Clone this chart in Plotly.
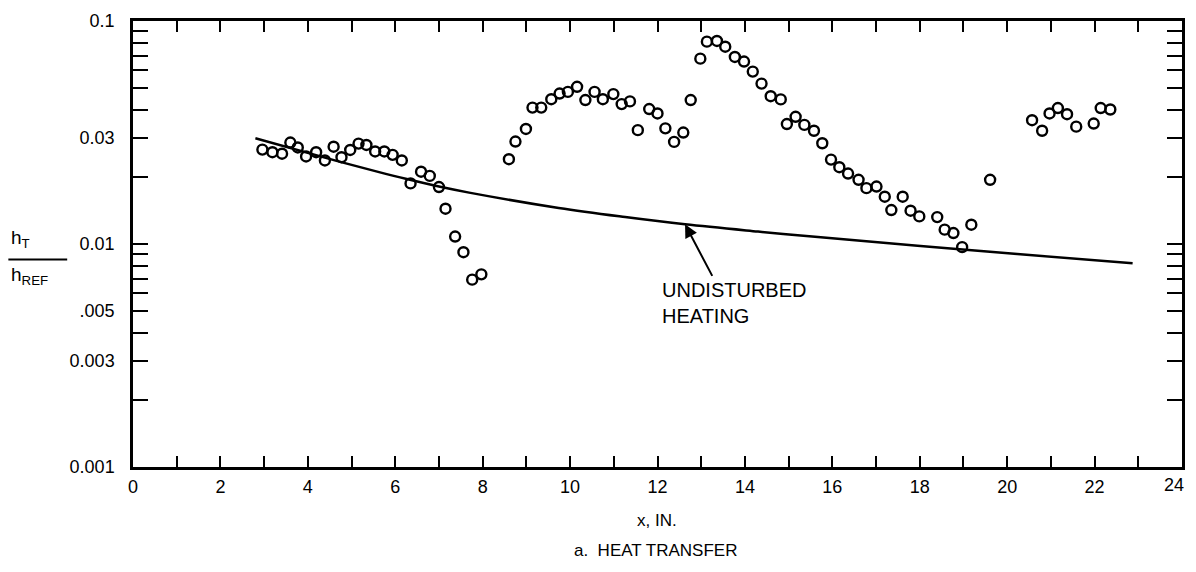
import plotly.graph_objects as go
import math

# ---- data ----
x_meas = [2.96, 3.19, 3.41, 3.60, 3.77, 3.96, 4.19, 4.39, 4.59, 4.77, 4.97, 5.16, 5.34, 5.54,
          5.75, 5.94, 6.15, 6.35, 6.59, 6.79, 7.00, 7.15, 7.37, 7.56, 7.76, 7.97,
          8.60, 8.75, 8.99, 9.14, 9.34, 9.57, 9.76, 9.95, 10.16, 10.35, 10.56, 10.75, 10.99,
          11.18, 11.37, 11.55, 11.81, 12.00, 12.18, 12.38, 12.59, 12.76,
          12.98, 13.13, 13.36, 13.55, 13.77, 13.98, 14.18, 14.38, 14.59, 14.82, 14.96, 15.16,
          15.36, 15.58, 15.77, 15.97, 16.16, 16.36, 16.60, 16.78, 17.01, 17.20, 17.35, 17.61,
          17.79, 17.99, 18.40, 18.57, 18.77, 18.97, 19.18, 19.61,
          20.57, 20.80, 20.97, 21.16, 21.37, 21.58, 21.98, 22.14, 22.36]
y_meas = [0.0265, 0.0258, 0.0254, 0.0285, 0.0271, 0.0247, 0.0258, 0.0237, 0.0273, 0.0245,
          0.0264, 0.0282, 0.0278, 0.0260, 0.0260, 0.0251, 0.0237, 0.0187, 0.0211, 0.0202,
          0.0180, 0.0144, 0.0108, 0.00919, 0.00692, 0.00731,
          0.0240, 0.0288, 0.0328, 0.0409, 0.0409, 0.0446, 0.0473, 0.0481, 0.0507, 0.0442,
          0.0481, 0.0446, 0.0470, 0.0424, 0.0436, 0.0324, 0.0403, 0.0385, 0.0330, 0.0287,
          0.0316, 0.0442,
          0.0678, 0.0808, 0.0814, 0.0767, 0.0690, 0.0658, 0.0593, 0.0524, 0.0460, 0.0445,
          0.0345, 0.0372, 0.0342, 0.0322, 0.0283, 0.0239, 0.0221, 0.0207, 0.0194, 0.0178,
          0.0181, 0.0163, 0.0142, 0.0163, 0.0141, 0.0133, 0.0132, 0.0116, 0.0112, 0.00968,
          0.0122, 0.0194,
          0.0359, 0.0322, 0.0385, 0.0407, 0.0382, 0.0336, 0.0347, 0.0407, 0.0401]

x_curve = [2.80, 4.72, 5.63, 6.24, 7.00, 7.69, 9.74, 11.26, 12.63, 14.30, 15.67, 17.95, 20.23, 22.87]
y_curve = [0.0298, 0.0234, 0.0210, 0.0196, 0.0181, 0.0170, 0.0145, 0.0132, 0.01225, 0.01137,
           0.01074, 0.00983, 0.00901, 0.0082]

x_tickvals = list(range(0, 25))
x_ticktext = [str(v) if v % 2 == 0 else "" for v in x_tickvals]

y_tickvals = [0.001, 0.002, 0.003, 0.004, 0.005, 0.006, 0.007, 0.008, 0.009,
              0.01, 0.02, 0.03, 0.04, 0.05, 0.06, 0.07, 0.08, 0.09, 0.1]
y_ticktext = ["0.001", "", "0.003", "", ".005", "", "", "", "",
              "0.01", "", "0.03", "", "", "", "", "", "", "0.1"]

FONT = "Liberation Sans, Arial, Helvetica, sans-serif"

fig = go.Figure()
fig.add_trace(go.Scatter(x=x_curve, y=y_curve, mode="lines",
                         line=dict(color="black", width=2.5, shape="spline", smoothing=1.0),
                         hoverinfo="skip", showlegend=False))
fig.add_trace(go.Scatter(x=x_meas, y=y_meas, mode="markers",
                         marker=dict(symbol="circle-open", size=10, color="black",
                                     line=dict(width=2.4, color="black")),
                         showlegend=False))

# page body has an 8px margin; figure sized so the plot area lands where the reference has it
W, H = 1180, 556
L, R, T, B = 125, 3, 12, 97
pw, ph = W - L - R, H - T - B
OFF = 8

def px(xs):
    return (xs - OFF - L) / pw

def py(ys):
    return (H - B - (ys - OFF)) / ph

axis_ticktext = x_ticktext[:-1] + [""]

fig.update_layout(
    width=W, height=H,
    margin=dict(l=L, r=R, t=T, b=B),
    paper_bgcolor="white", plot_bgcolor="white",
    font=dict(family=FONT, size=18, color="black"),
    xaxis=dict(range=[0, 24], tickmode="array", tickvals=x_tickvals, ticktext=axis_ticktext,
               ticks="inside", ticklen=11, tickwidth=2, tickcolor="black",
               showline=True, linewidth=2.5, linecolor="black", mirror="ticks",
               showgrid=False, zeroline=False, ticklabelstandoff=2,
               tickfont=dict(size=18)),
    yaxis=dict(type="log", range=[-3, -1], tickmode="array", tickvals=y_tickvals,
               ticktext=y_ticktext,
               ticks="inside", ticklen=15, tickwidth=2, tickcolor="black",
               showline=True, linewidth=2.5, linecolor="black", mirror="ticks",
               showgrid=False, zeroline=False, ticklabelstandoff=12,
               tickfont=dict(size=18)),
)

ann = [
    dict(text=x_ticktext[-1], x=px(1177), y=py(485), xref="paper", yref="paper",
         showarrow=False, xanchor="center", yanchor="middle", font=dict(size=18)),
    dict(text="x, IN.", x=px(658), y=py(521), xref="paper", yref="paper",
         showarrow=False, xanchor="center", yanchor="middle", font=dict(size=17)),
    dict(text="a.  HEAT TRANSFER", x=px(657), y=py(551), xref="paper", yref="paper",
         showarrow=False, xanchor="center", yanchor="middle", font=dict(size=17)),
    dict(text="h<sub>T</sub>", x=px(9), y=py(238), xref="paper", yref="paper",
         showarrow=False, xanchor="left", yanchor="middle", font=dict(size=19)),
    dict(text="h<sub>REF</sub>", x=px(9), y=py(276), xref="paper", yref="paper",
         showarrow=False, xanchor="left", yanchor="middle", font=dict(size=19)),
    dict(text="UNDISTURBED<br>HEATING", x=px(662), y=py(303), xref="paper", yref="paper",
         showarrow=False, xanchor="left", yanchor="middle", align="left",
         font=dict(size=20)),
    dict(text="", x=12.63, y=math.log10(0.01225), xref="x", yref="y",
         ax=28, ay=53, showarrow=True, arrowhead=2, arrowsize=1.3, arrowwidth=2,
         arrowcolor="black"),
]
fig.update_layout(annotations=ann)
fig.add_shape(type="line", xref="paper", yref="paper",
              x0=px(8), x1=px(67), y0=py(259), y1=py(259),
              line=dict(color="black", width=2))

fig.write_html("out.html")
